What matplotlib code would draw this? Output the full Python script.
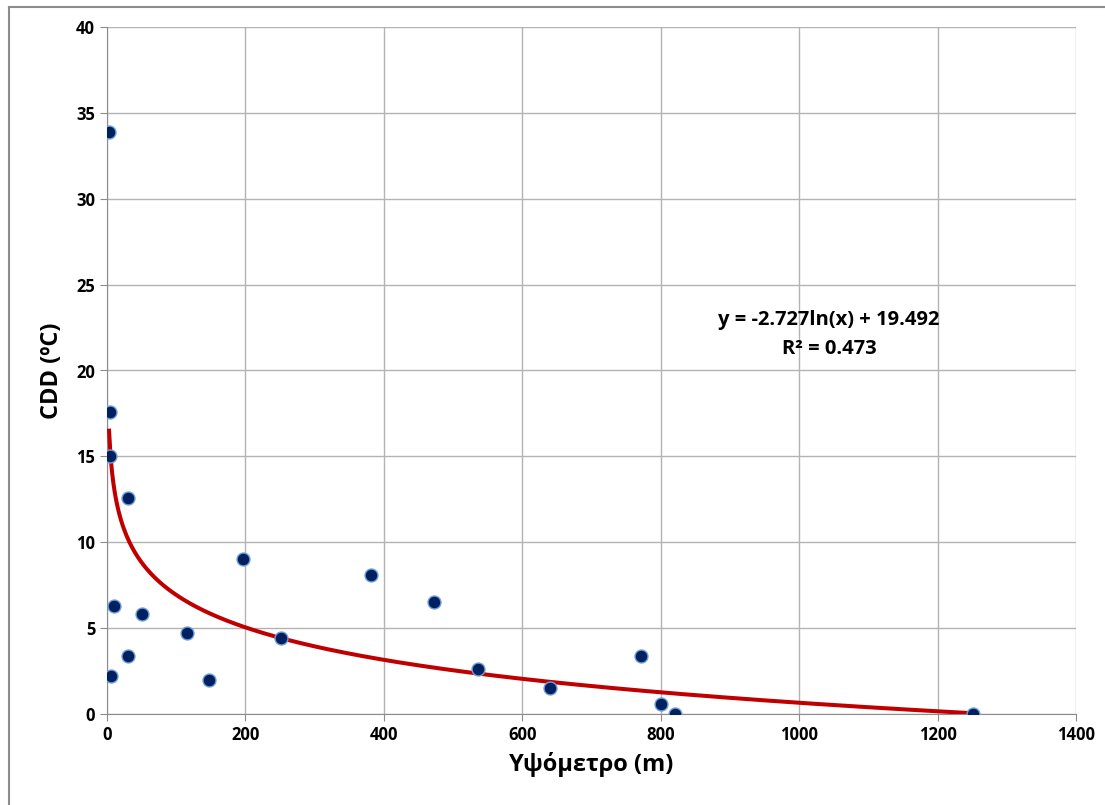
import matplotlib.pyplot as plt
import numpy as np
from matplotlib.lines import Line2D

# altitude (m) and CDD (oC) per station
altitude = [3, 4, 4, 30, 10, 6, 30, 50, 116, 147, 197, 251, 381, 472, 536, 640, 771, 800, 821, 1251]
cdd = [33.9, 17.6, 15.0, 12.6, 6.3, 2.2, 3.4, 5.8, 4.7, 2.0, 9.0, 4.4, 8.1, 6.5, 2.6, 1.5, 3.4, 0.6, 0.0, 0.0]

# logarithmic trendline as reported
slope = -2.727
intercept = 19.492
r2 = 0.473

plt.rcParams['font.family'] = ['Open Sans', 'DejaVu Sans']

fig = plt.figure(figsize=(11.05, 8.05), dpi=100)
ax = fig.add_axes([107 / 1105, 1 - 714 / 805, (1076 - 107) / 1105, (714 - 27) / 805])

# outer chart border (only left and top edges visible)
bx, by = 8.5 / 1105, 1 - 7.5 / 805
fig.lines.append(Line2D([bx, bx], [0, by], transform=fig.transFigure, color='#8c8c8c', linewidth=1.5))
fig.lines.append(Line2D([bx, 1], [by, by], transform=fig.transFigure, color='#8c8c8c', linewidth=1.5))

xs = np.linspace(min(altitude), max(altitude), 600)
ax.plot(xs, slope * np.log(xs) + intercept, color='#c00000', linewidth=2.9, zorder=3)
ax.plot(altitude, cdd, 'o', markersize=9.3, markerfacecolor='#002060',
        markeredgecolor='#6f9fd8', markeredgewidth=1.0, zorder=4)

ax.set_xlim(0, 1400)
ax.set_ylim(0, 40)
ax.set_xticks(np.arange(0, 1401, 200))
ax.set_yticks(np.arange(0, 41, 5))
ax.grid(True, color='#b3b3b3', linewidth=1.0)
ax.set_axisbelow(True)
for s in ['top', 'right']:
    ax.spines[s].set_visible(False)
for s in ['left', 'bottom']:
    ax.spines[s].set_color('#8c8c8c')
ax.tick_params(colors='#8c8c8c', length=5, labelcolor='black', labelsize=12)
for lbl in ax.get_xticklabels() + ax.get_yticklabels():
    lbl.set_fontweight('bold')

ax.set_xlabel('Υψόμετρο (m)', fontsize=17, fontweight='bold', labelpad=6)
ax.set_ylabel('CDD (ºC)', fontsize=17, fontweight='bold', labelpad=9)

ax.text(1043, 22.1, f'y = {slope}ln(x) + {intercept}\nR² = {r2}', ha='center', va='center',
        fontsize=14.5, fontweight='bold', linespacing=1.6)

fig.savefig('out.png', dpi=100)
